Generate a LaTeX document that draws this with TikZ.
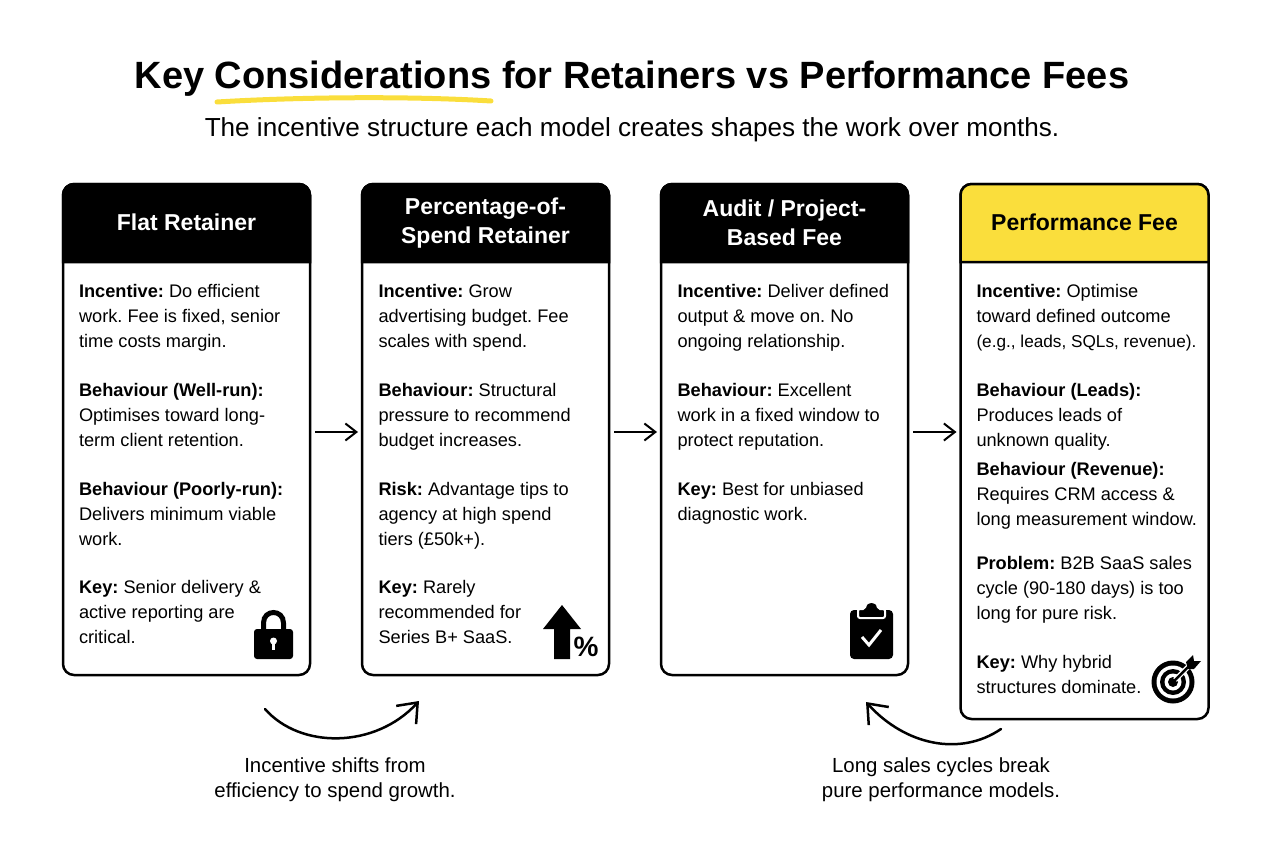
\documentclass[tikz,border=0pt]{standalone}
\usepackage{fontspec}
\setmainfont{Liberation Sans}
\usetikzlibrary{positioning}
\usetikzlibrary{arrows.meta}

\definecolor{marker}{RGB}{250,222,60}
\definecolor{ink}{RGB}{0,0,0}

\frenchspacing

\tikzset{
	card/.style={draw=ink,fill=white,line width=2.5pt,rounded corners=11pt,outer sep=0pt,
		minimum width=247pt,minimum height=491pt},
	head/.style={font=\fontsize{23}{29.5}\selectfont\bfseries,align=center,inner sep=0pt,
		minimum height=78pt},
	block/.style={font=\fontsize{18.2}{25}\selectfont,align=left,inner sep=0pt,outer sep=0pt,
		execute at begin node=\strut,execute at end node=\strut},
	caption/.style={font=\fontsize{20.4}{25}\selectfont,align=center,inner sep=0pt},
	flow/.style={-{Straight Barb[length=11pt,width=17pt,line width=2pt]},line width=2pt,shorten <=5pt,shorten >=4pt},
	swing/.style={-{Straight Barb[length=17pt,width=27pt,line width=2.5pt]},line width=2.5pt,line cap=round}
}

\begin{document}
\begin{tikzpicture}[x=1pt,y=-1pt]
	\useasboundingbox (0,0) rectangle (1264,848);
	
	% title
	\draw[marker,line width=5pt,line cap=round] (217,102) .. controls (300,97) and (410,96) .. (491,101);
	\node[font=\fontsize{38}{44}\selectfont\bfseries,inner sep=0pt] (title) at (632,79) {Key Considerations for Retainers vs Performance Fees};
	\node[font=\fontsize{26.1}{32}\selectfont,inner sep=0pt] (sub) at (632,130) {The incentive structure each model creates shapes the work over months.};
	
	% cards
	\node[card,anchor=north west] (c1) at (63,184) {};
	\node[card,below right=0pt and 52pt of c1.north east] (c2) {};
	\node[card,below right=0pt and 52pt of c2.north east] (c3) {};
	\node[card,below right=0pt and 52.5pt of c3.north east,minimum width=248pt,minimum height=535pt] (c4) {};
	
	\foreach \n/\col in {c1/ink,c2/ink,c3/ink,c4/marker}
		\filldraw[draw=ink,fill=\col,line width=2.5pt] ([yshift=-78pt]\n.north west) [rounded corners=11pt] -- (\n.north west) -- (\n.north east) [sharp corners] -- ([yshift=-78pt]\n.north east) -- cycle;
	
	\node[head,text=white] (h1) at ([yshift=-38pt]c1.north) {Flat Retainer};
	\node[head,text=white] (h2) at ([yshift=-39pt]c2.north) {Percentage-of-\\Spend Retainer};
	\node[head,text=white] (h3) at ([yshift=-39pt]c3.north) {Audit / Project-\\Based Fee};
	\node[head,text=ink] (h4) at ([yshift=-38pt]c4.north) {Performance Fee};
	
	% flat retainer
	\node[block,below right=100.5pt and 16pt of c1.north west] (a1) {\textbf{Incentive:} Do efficient\\work. Fee is fixed, senior\\time costs margin.};
	\node[block,below right=28pt and 0pt of a1.south west] (a2) {\textbf{Behaviour (Well-run):}\\Optimises toward long-\\term client retention.};
	\node[block,below right=28pt and 0pt of a2.south west] (a3) {\textbf{Behaviour (Poorly-run):}\\Delivers minimum viable\\work.};
	\node[block,below right=28pt and 0pt of a3.south west] (a4) {\textbf{Key:} Senior delivery \&\\active reporting are\\critical.};
	
	% percentage of spend
	\node[block,below right=100.5pt and 16.5pt of c2.north west] (b1) {\textbf{Incentive:} Grow\\advertising budget. Fee\\scales with spend.};
	\node[block,below right=28pt and 0pt of b1.south west] (b2) {\textbf{Behaviour:} Structural\\pressure to recommend\\budget increases.};
	\node[block,below right=28pt and 0pt of b2.south west] (b3) {\textbf{Risk:} Advantage tips to\\agency at high spend\\tiers (£50k+).};
	\node[block,below right=28pt and 0pt of b3.south west] (b4) {\textbf{Key:} Rarely\\recommended for\\Series B+ SaaS.};
	
	% audit
	\node[block,below right=100.5pt and 16.5pt of c3.north west] (d1) {\textbf{Incentive:} Deliver defined\\output \& move on. No\\ongoing relationship.};
	\node[block,below right=28pt and 0pt of d1.south west] (d2) {\textbf{Behaviour:} Excellent\\work in a fixed window to\\protect reputation.};
	\node[block,below right=28pt and 0pt of d2.south west] (d3) {\textbf{Key:} Best for unbiased\\diagnostic work.};
	
	% performance
	\node[block,below right=100.5pt and 16pt of c4.north west] (e1) {\textbf{Incentive:} Optimise\\toward defined outcome\\{\fontsize{17.2}{25}\selectfont (e.g., leads, SQLs, revenue).}};
	\node[block,below right=28pt and 0pt of e1.south west] (e2) {\textbf{Behaviour (Leads):}\\Produces leads of\\unknown quality.};
	\node[block,below right=8pt and 0pt of e2.south west] (e3) {\textbf{Behaviour (Revenue):}\\Requires CRM access \&\\long measurement window.};
	\node[block,below right=24pt and 0pt of e3.south west] (e4) {\textbf{Problem:} B2B SaaS sales\\cycle (90-180 days) is too\\long for pure risk.};
	\node[block,below right=28pt and 0pt of e4.south west] (e5) {\textbf{Key:} Why hybrid\\structures dominate.};
	
	% connectors
	\draw[flow] ([yshift=-2.5pt]c1.east) -- ([yshift=-2.5pt]c2.west);
	\draw[flow] ([yshift=-2.5pt]c2.east) -- ([yshift=-2.5pt]c3.west);
	\draw[flow] ([yshift=-2.5pt]c3.east) -- ([yshift=-2.5pt]c3.east -| c4.west);
	
	\coordinate (s1) at (265,709);
	\coordinate (s2) at (419,701);
	\coordinate (s3) at (1001,729);
	\coordinate (s4) at (866,702);
	\draw[swing] (s1) .. controls (300,749) and (375,749) .. (s2);
	\draw[swing] (s3) .. controls (960,757) and (905,745) .. (s4);
	
	\node[caption] (n1) at (335,780) {Incentive shifts from\\efficiency to spend growth.};
	\node[caption] (n2) at (941,780) {Long sales cycles break\\pure performance models.};
	
	% lock
	\draw[ink,line width=5pt] (263.5,632) -- (263.5,623) .. controls (263.5,609) and (283.5,609) .. (283.5,623) -- (283.5,632);
	\fill[ink,rounded corners=3pt] (254,629) rectangle (293,659);
	\fill[white] (273.5,641) circle[radius=3.5pt];
	\fill[white] (272,642) rectangle (275,650);
	
	% arrow and percent
	\fill[ink] (562,605) -- (581,629) -- (570,629) -- (570,659) -- (554,659) -- (554,629) -- (543,629) -- cycle;
	\node[font=\fontsize{28}{28}\selectfont\bfseries,inner sep=0pt] (pct) at (586,647) {\%};
	
	% clipboard
	\fill[ink,rounded corners=4pt] (850,610) rectangle (893,659);
	\filldraw[draw=white,fill=ink,line width=2pt,rounded corners=2pt] (858,609) -- (865,609) .. controls (866,600) and (877,600) .. (878,609) -- (885,609) -- (885,618) -- (858,618) -- cycle;
	\draw[white,line width=3pt] (862,637) -- (869,645) -- (881,630);
	
	% target
	\fill[ink] (1173,682) circle[radius=21.5pt];
	\fill[white] (1173,682) circle[radius=16.5pt];
	\fill[ink] (1173,682) circle[radius=13pt];
	\fill[white] (1173,682) circle[radius=8.5pt];
	\fill[ink] (1173,682) circle[radius=5pt];
	\draw[white,line width=5pt] (1175,680) -- (1190,665);
	\draw[ink,line width=2.5pt] (1173,682) -- (1190,665);
	\fill[ink] (1186,662) -- (1193,655) -- (1194,661) -- (1201,661) -- (1194,669) -- (1188,669) -- cycle;
\end{tikzpicture}
\end{document}
